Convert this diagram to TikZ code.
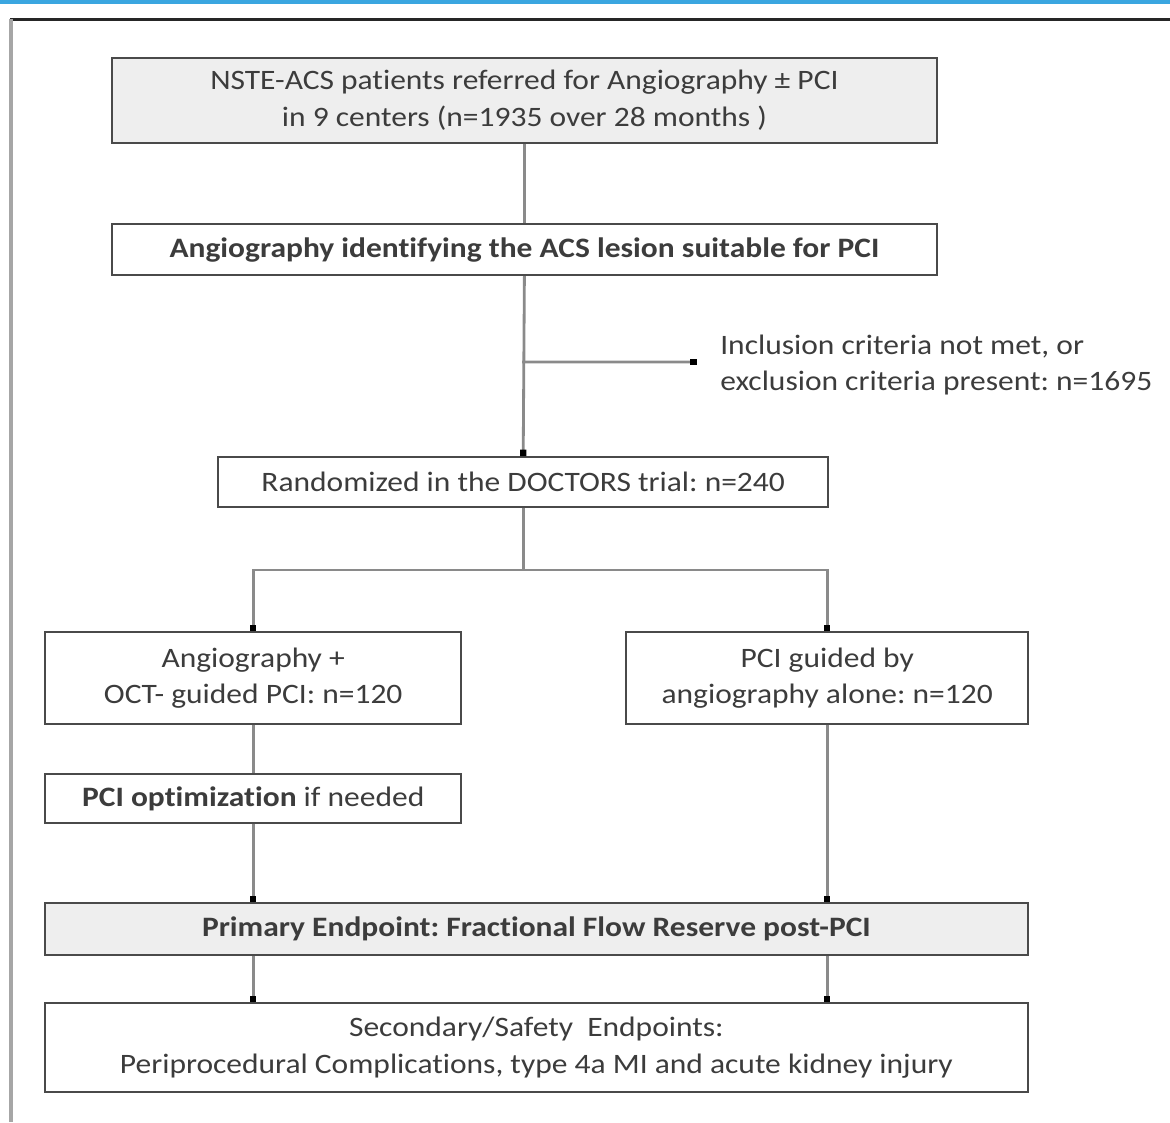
\documentclass[tikz,border=0pt]{standalone}
\usepackage{fontspec}
\setmainfont[FakeStretch=1.12,Ligatures=NoCommon]{Carlito}
\frenchspacing
\usepackage{tikz}
\usetikzlibrary{arrows.meta,positioning,calc}
\definecolor{Ink}{HTML}{3C3C3C}
\definecolor{Wire}{HTML}{8A8A8A}
\definecolor{Edge}{HTML}{4A4A4A}
\definecolor{SoftGray}{HTML}{EEEEEE}
\definecolor{TopBlue}{HTML}{3AA6E0}
\begin{document}
\begin{tikzpicture}[
  box/.style={draw=Edge,fill=white,line width=1.3pt,minimum height=1.25cm,align=center,text=Ink,font=\fontsize{20}{26}\selectfont,inner sep=2pt},
  box2/.style={box,fill=SoftGray},
  line/.style={draw=Wire,line width=2pt},
  arrow/.style={line,-{Square[length=1.6mm,width=1.6mm,black]}}
]
\useasboundingbox (0,0) rectangle (29.25,-28.05);
% frame
\fill[TopBlue] (0,0) rectangle (29.25,-0.1);
\draw[black!85,line width=2.2pt] (0.25,-0.48) -- (29.25,-0.48);
\draw[gray!70,line width=3pt] (0.28,-0.48) -- (0.28,-28.05);
% boxes
\node[box2,minimum width=20.63cm,minimum height=2.13cm] (top) at (13.11,-2.51) {NSTE-ACS patients referred for Angiography ± PCI\\in 9 centers (n=1935 over 28 months )};
\node[box,minimum width=20.63cm,minimum height=1.28cm,font=\fontsize{20}{26}\selectfont\bfseries] (lesion) at (13.11,-6.24) {Angiography identifying the ACS lesion suitable for PCI};
\node[align=left,text=Ink,font=\fontsize{20}{26}\selectfont,anchor=west,inner sep=0pt] (excl) at (18.0,-9.12) {Inclusion criteria not met, or\\exclusion criteria present: n=1695};
\node[box,minimum width=15.25cm] (rand) at (13.08,-12.05) {Randomized in the DOCTORS trial: n=240};
\node[box,minimum width=10.4cm,minimum height=2.3cm] (octbox) at (6.33,-16.95) {Angiography +\\OCT- guided PCI: n=120};
\node[box,minimum width=10.05cm,minimum height=2.3cm] (angbox) at (20.68,-16.95) {PCI guided by\\angiography alone: n=120};
\node[box,minimum width=10.4cm,minimum height=1.23cm] (optbox) at (6.33,-19.96) {\textbf{PCI optimization} if needed};
\node[box2,minimum width=24.58cm,minimum height=1.3cm,font=\fontsize{20}{26}\selectfont\bfseries] (primary) at (13.41,-23.23) {Primary Endpoint: Fractional Flow Reserve post-PCI};
\node[box,minimum width=24.58cm,minimum height=2.23cm] (second) at (13.41,-26.19) {Secondary/Safety\ \ Endpoints:\\Periprocedural Complications, type 4a MI and acute kidney injury};
% connectors
\coordinate (split) at (13.05,-9.05);
\coordinate (fork) at (13.08,-14.25);
\draw[line] (top.south) -- (lesion.north);
\draw[arrow] (lesion.south) -- (rand.north);
\draw[arrow] (split) -- ([xshift=-0.58cm,yshift=0.07cm]excl.west);
\draw[line] (rand.south) -- (fork);
\draw[arrow] (fork) -| (octbox.north);
\draw[arrow] (fork) -| (angbox.north);
\draw[line] (octbox.south) -- (optbox.north);
\draw[arrow] (optbox.south) -- (optbox.south |- primary.north);
\draw[arrow] (angbox.south) -- (angbox.south |- primary.north);
\draw[arrow] (optbox.south |- primary.south) -- (optbox.south |- second.north);
\draw[arrow] (angbox.south |- primary.south) -- (angbox.south |- second.north);
\end{tikzpicture}
\end{document}
